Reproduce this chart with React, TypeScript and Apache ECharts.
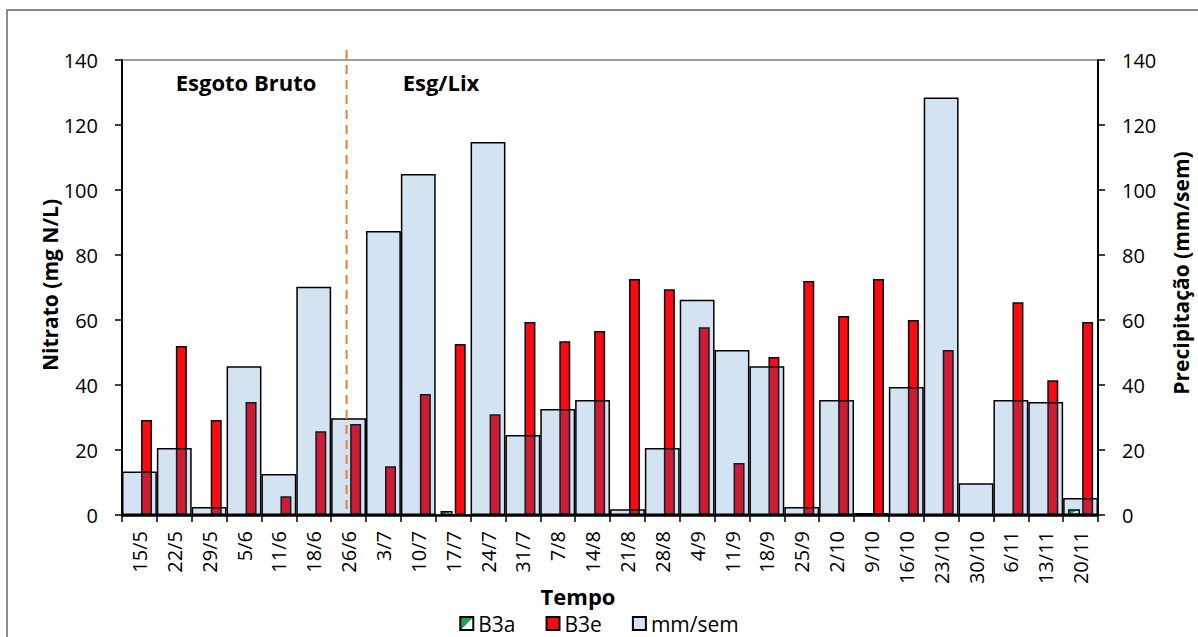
import React, { useEffect, useRef } from "react";
import * as echarts from "echarts";

const categories = [
  "15/5", "22/5", "29/5", "5/6", "11/6", "18/6", "26/6", "3/7", "10/7", "17/7",
  "24/7", "31/7", "7/8", "14/8", "21/8", "28/8", "4/9", "11/9", "18/9", "25/9",
  "2/10", "9/10", "16/10", "23/10", "30/10", "6/11", "13/11", "20/11",
];

const b3a: (number | null)[] = [
  null, null, null, null, null, null, null, null, null, 1.2,
  null, null, null, null, null, null, null, null, null, null,
  null, null, null, null, null, null, null, 1.8,
];

const b3e: (number | null)[] = [
  29.2, 52, 29.2, 34.8, 5.8, 25.8, 28, 15, 37.2, 52.6,
  31, 59.4, 53.5, 56.6, 72.6, 69.5, 57.8, 16, 48.6, 72,
  61.2, 72.6, 60, 50.8, null, 65.5, 41.5, 59.4,
];

const mmSem: (number | null)[] = [
  13.4, 20.6, 2.5, 45.8, 12.6, 70.2, 29.8, 87.4, 104.9, null,
  114.8, 24.6, 32.6, 35.4, 1.8, 20.6, 66.2, 50.8, 45.8, 2.5,
  35.4, 0.6, 39.4, 128.5, 9.8, 35.4, 34.8, 5.2,
];

const yTicks = { min: 0, max: 140, interval: 20 };

const FONT = "Open Sans";

export default function App() {
  const ref = useRef<HTMLDivElement>(null);

  useEffect(() => {
    if (!ref.current) return;
    const chart = echarts.init(ref.current, null, { renderer: "svg" });

    const greenFill = new echarts.graphic.LinearGradient(0, 0, 1, 1, [
      { offset: 0, color: "#1FA64A" },
      { offset: 0.5, color: "#1FA64A" },
      { offset: 0.5, color: "#FFFFFF" },
      { offset: 1, color: "#FFFFFF" },
    ]);

    const valueAxisCommon = {
      type: "value",
      min: yTicks.min,
      max: yTicks.max,
      interval: yTicks.interval,
      splitLine: { show: false },
      axisLine: { show: true, lineStyle: { color: "#000", width: 2 } },
      axisTick: { show: true, inside: false, length: 7, lineStyle: { color: "#000", width: 1.5 } },
      axisLabel: { color: "#000", fontSize: 20, fontFamily: FONT, margin: 24 },
    };

    chart.setOption({
      animation: false,
      backgroundColor: "#fff",
      grid: {
        left: 122,
        right: 100,
        top: 60,
        bottom: 122,
        show: true,
        borderColor: "#404040",
        borderWidth: 1,
      },
      legend: {
        top: 608,
        left: "center",
        icon: "rect",
        itemWidth: 13,
        itemHeight: 13,
        itemGap: 30,
        textStyle: { color: "#000", fontSize: 21, fontFamily: FONT },
        data: ["B3a", "B3e", "mm/sem"],
      },
      xAxis: [
        {
          type: "category",
          data: categories,
          axisLine: { show: true, lineStyle: { color: "#000", width: 2.5 } },
          axisTick: { show: true, length: 7, lineStyle: { color: "#000", width: 1.5 } },
          axisLabel: {
            interval: 0,
            rotate: 90,
            color: "#000",
            fontSize: 20,
            fontFamily: FONT,
            margin: 16,
          },
          splitLine: { show: false },
        },
        {
          type: "category",
          data: categories,
          show: false,
        },
      ],
      yAxis: [
        { ...valueAxisCommon, position: "left" },
        { ...valueAxisCommon, position: "right" },
      ],
      series: [
        {
          name: "B3a",
          type: "bar",
          xAxisIndex: 0,
          yAxisIndex: 0,
          data: b3a,
          barWidth: 12,
          barGap: "18%",
          itemStyle: { color: greenFill, borderColor: "#000", borderWidth: 1.5 },
        },
        {
          name: "B3e",
          type: "bar",
          xAxisIndex: 0,
          yAxisIndex: 0,
          data: b3e,
          barWidth: 11,
          barGap: "18%",
          itemStyle: { color: "#F80C14", borderColor: "#0a0a0a", borderWidth: 1.5 },
        },
        {
          name: "mm/sem",
          type: "bar",
          xAxisIndex: 1,
          yAxisIndex: 1,
          data: mmSem,
          barCategoryGap: "0%",
          itemStyle: {
            color: "rgba(24,108,187,0.19)",
            borderColor: "#000",
            borderWidth: 1.5,
          },
        },
      ],
    });

    const xDash = chart.convertToPixel({ xAxisIndex: 0 }, "26/6") as number;
    const yZero = chart.convertToPixel({ yAxisIndex: 0 }, 0) as number;

    const title = (id: string, text: string, x: number, y: number, size: number, rot = 0) => ({
      type: "text",
      id,
      x,
      y,
      rotation: rot,
      style: {
        text,
        fontSize: size,
        fontWeight: "bold",
        fontFamily: FONT,
        fill: "#000",
        align: "center",
        verticalAlign: "middle",
      },
    });

    chart.setOption({
      graphic: [
        {
          type: "rect",
          id: "frame",
          shape: { x: 7, y: 10, width: 1300, height: 700 },
          style: { fill: "none", stroke: "#8c8c8c", lineWidth: 2 },
          silent: true,
        },
        {
          type: "line",
          id: "dash",
          shape: { x1: xDash - 2, y1: 50, x2: xDash - 2, y2: yZero },
          style: { stroke: "#ED7D31", lineWidth: 2, lineDash: [9, 6] },
          z: 100,
        },
        title("esgoto", "Esgoto Bruto", 246, 82, 22),
        title("esglix", "Esg/Lix", 441, 82, 22),
        title("yname", "Nitrato (mg N/L)", 50, 285, 21, Math.PI / 2),
        title("y2name", "Precipitação (mm/sem)", 1181, 273, 21, Math.PI / 2),
        title("xname", "Tempo", 578, 596, 22),
      ],
    });

    return () => chart.dispose();
  }, []);

  return (
    <div
      ref={ref}
      style={{ position: "fixed", left: 0, top: 0, width: 1198, height: 637 }}
    />
  );
}
